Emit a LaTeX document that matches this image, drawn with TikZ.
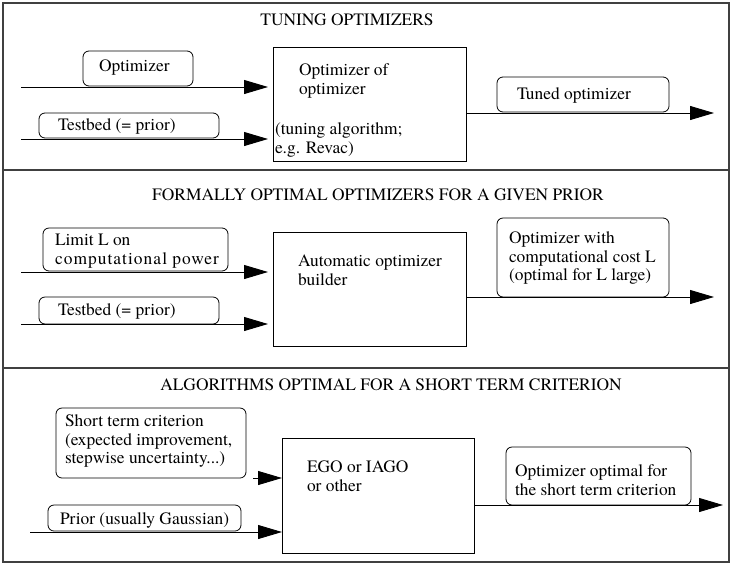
\documentclass[tikz,border=0pt]{standalone}
\usepackage{fontspec}
\setmainfont{texgyretermes}[Extension=.otf, UprightFont=*-regular, BoldFont=*-bold, ItalicFont=*-italic, BoldItalicFont=*-bolditalic]
\usetikzlibrary{arrows.meta}
\begin{document}
\begin{tikzpicture}[x=1pt,y=-1pt,
  every node/.style={font=\fontsize{17.4}{18.6}\selectfont, inner sep=0pt, outer sep=0pt},
  rbox/.style={draw, rounded corners=6pt, line width=0.8pt, anchor=north west},
  mbox/.style={draw, line width=0.8pt, anchor=north west},
  txt/.style={align=left, anchor=west},
  ttl/.style={anchor=center},
  arr/.style={line width=0.9pt, -{Triangle[length=24pt,width=14pt]}},
  frame/.style={draw=black!75, line width=1.5pt}]
\useasboundingbox (0,0) rectangle (730,563);
% frame
\draw[frame] (3,3) rectangle (729,562);
\draw[frame] (3,170) -- (729,170);
\draw[frame] (3,368) -- (729,368);
% ---------- panel 1
\node[ttl] (t1) at (347,20) {TUNING OPTIMIZERS};
\node[rbox, minimum width=110, minimum height=35] (opt) at (83,51) {};
\node[txt] (optT) at (99,68) {Optimizer};
\node[rbox, minimum width=180, minimum height=25] (tb1) at (39,113) {};
\node[txt] (tb1T) at (58,126) {Testbed (= prior)};
\node[mbox, minimum width=193, minimum height=114] (m1) at (273,47) {};
\node[txt] (m1a) at (299,81) {Optimizer of\\optimizer};
\node[txt] (m1b) at (275,140) {(tuning algorithm;\\e.g. Revac)};
\node[rbox, minimum width=172, minimum height=35] (out1) at (497,77) {};
\node[txt] (out1T) at (517,95) {Tuned optimizer};
\coordinate (s1a) at (21,87);
\coordinate (s1b) at (21,139);
\coordinate (e1) at (714,113);
\draw[arr, shorten >=5pt] (s1a) -- (s1a -| m1.west);
\draw[arr, shorten >=5pt] (s1b) -- (s1b -| m1.west);
\draw[arr] (m1.east |- e1) -- (e1);
% ---------- panel 2
\node[ttl] (t2) at (378,195) {FORMALLY OPTIMAL OPTIMIZERS FOR A GIVEN PRIOR};
\node[rbox, minimum width=185, minimum height=43] (lim) at (43,228) {};
\node[txt] (limT) at (55,251) {Limit L on\\{\addfontfeature{LetterSpace=6}computational power}};
\node[rbox, minimum width=180, minimum height=27] (tb2) at (39,297) {};
\node[txt] (tb2T) at (58,311) {Testbed (= prior)};
\node[mbox, minimum width=193, minimum height=114] (m2) at (273,232) {};
\node[txt] (m2T) at (298,270) {Automatic optimizer\\builder};
\node[rbox, minimum width=172, minimum height=79] (out2) at (497,218) {};
\node[txt] (out2T) at (509,258) {Optimizer with\\computational cost L\\(optimal for L large)};
\coordinate (s2a) at (21,272);
\coordinate (s2b) at (21,324);
\coordinate (e2) at (714,297);
\draw[arr, shorten >=5pt] (s2a) -- (s2a -| m2.west);
\draw[arr, shorten >=5pt] (s2b) -- (s2b -| m2.west);
\draw[arr] (m2.east |- e2) -- (e2);
% ---------- panel 3
\node[ttl] (t3) at (391,385) {ALGORITHMS OPTIMAL FOR A SHORT TERM CRITERION};
\node[rbox, minimum width=190, minimum height=70] (st) at (56,408) {};
\node[txt] (stT) at (65,441) {Short term criterion\\(expected improvement,\\stepwise uncertainty...)};
\node[rbox, minimum width=193, minimum height=26] (pr) at (48,505) {};
\node[txt] (prT) at (60,520) {Prior (usually Gaussian)};
\node[mbox, minimum width=192, minimum height=115] (m3) at (282,438) {};
\node[txt] (m3T) at (307,476) {EGO or IAGO\\or other};
\node[rbox, minimum width=185, minimum height=58] (out3) at (506,447) {};
\node[txt] (out3T) at (515,480) {Optimizer optimal for\\the short term criterion};
\coordinate (s3a) at (253,478);
\coordinate (s3b) at (30,532);
\coordinate (e3) at (723,505);
\draw[arr] (s3a) -- (s3a -| m3.west);
\draw[arr] (s3b) -- (s3b -| m3.west);
\draw[arr] (m3.east |- e3) -- (e3);
\end{tikzpicture}
\end{document}
